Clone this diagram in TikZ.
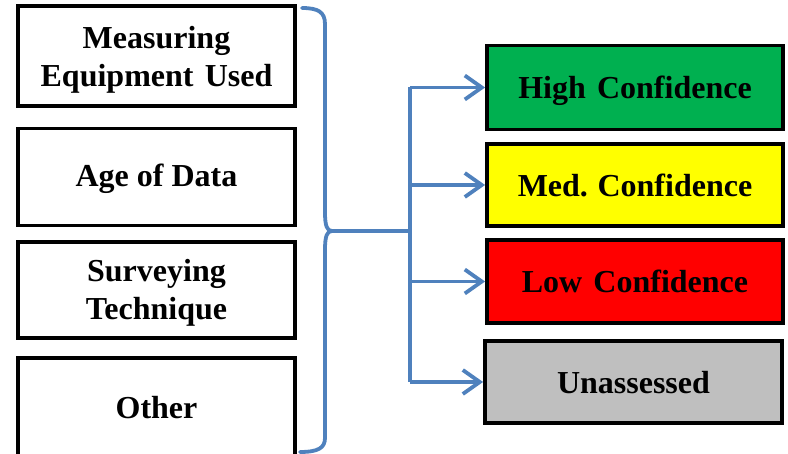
\documentclass[tikz,border=0pt]{standalone}
\usepackage{fontspec}
\setmainfont{Liberation Serif}[BoldFont={Liberation Serif Bold}]
\usetikzlibrary{arrows.meta}
\definecolor{linkblue}{HTML}{4F81BD}
\definecolor{confhigh}{HTML}{00B050}
\definecolor{confmed}{HTML}{FFFF00}
\definecolor{conflow}{HTML}{FF0000}
\definecolor{confnone}{HTML}{BFBFBF}
\tikzset{
  boxfont/.style={font=\fontsize{32}{38}\selectfont\bfseries},
  factor/.style={draw=black, line width=3.8pt, fill=white, align=center,
    minimum width=277pt, inner sep=0pt, text depth=0pt, boxfont},
  level/.style={draw=black, line width=3.8pt, align=center,
    minimum width=296pt, inner sep=0pt, text height=23pt, text depth=0pt, boxfont},
  link/.style={draw=linkblue, line width=3.8pt},
  linkarrow/.style={link, -{Straight Barb[length=17pt,width=24pt,line width=3.8pt]}},
}
\begin{document}
\begin{tikzpicture}[x=1pt,y=-1pt]
  \useasboundingbox (0,0) rectangle (788,454);
  % input factors
  \node[factor, minimum height=100pt, text height=62pt] (equip) at (156.5,56)
    {Measuring\\Equipment\hspace{0.35em}Used};
  \node[factor, minimum height=97pt, text height=20pt] (age) at (156.5,177) {Age of Data};
  \node[factor, minimum height=96pt, text height=60pt] (survey) at (156.5,290)
    {Surveying\\Technique};
  \node[factor, minimum height=106pt, text height=16pt] (other) at (156.5,411) {Other};
  % confidence levels
  \node[level, fill=confhigh, minimum height=84pt] (high) at (635,87.5) {High\hspace{0.35em}Confidence};
  \node[level, fill=confmed, minimum height=82pt] (med) at (635,185) {Med.\hspace{0.3em}Confidence};
  \node[level, fill=conflow, minimum height=83pt] (low) at (635,281.5) {Low\hspace{0.35em}Confidence};
  \node[level, fill=confnone, minimum height=82pt, minimum width=297pt] (none) at (633.5,382) {Unassessed};
  % brace grouping the factors
  \coordinate (tip) at (332,231);
  \coordinate (trunk) at (410,231);
  \draw[link, line cap=round, line join=round]
    (302,8) .. controls (318,8) and (325,12) .. (325,24)
    -- (325,212) .. controls (325,226) and (327,231) .. (tip)
    .. controls (327,231) and (325,236) .. (325,250)
    -- (325,438) .. controls (325,448) and (318,452) .. (300,452);
  \draw[link] (tip) -- (trunk);
  % distribution trunk and arrows
  \coordinate (ta) at (410,87.5);
  \coordinate (tb) at (410,185);
  \coordinate (tc) at (410,281.5);
  \coordinate (td) at (410,382);
  \draw[link] (ta) -- (td);
  \draw[linkarrow] (ta) -- (high.west);
  \draw[linkarrow] (tb) -- (med.west);
  \draw[linkarrow] (tc) -- (low.west);
  \draw[linkarrow] (td) -- (none.west);
\end{tikzpicture}
\end{document}
